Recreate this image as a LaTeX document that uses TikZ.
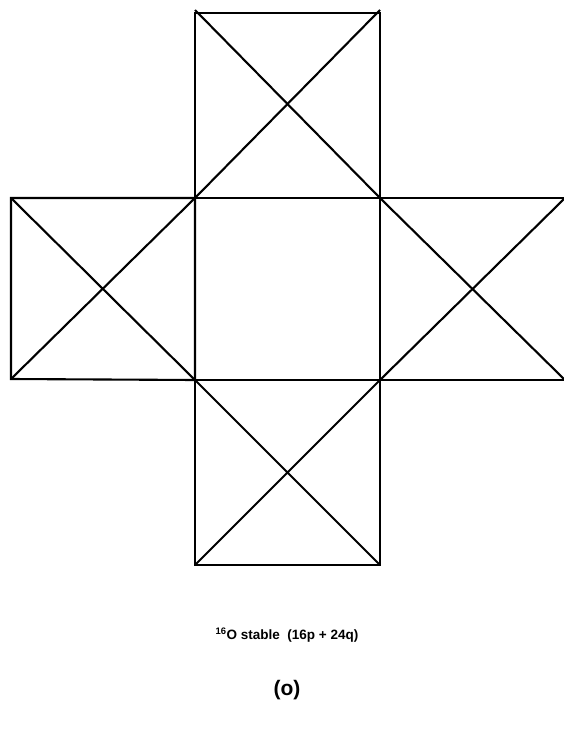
\documentclass[tikz,border=0pt]{standalone}
\usepackage{fontspec}
\setmainfont{Liberation Sans}
\begin{document}
\begin{tikzpicture}[x=1pt,y=-1pt,
  ln/.style={line width=2.1pt,black},
  lbl/.style={inner sep=0pt,font=\bfseries\fontsize{13.5}{16}\selectfont},
  tag/.style={inner sep=0pt,font=\bfseries\fontsize{21}{24}\selectfont}]
\useasboundingbox (0,0) rectangle (563,735);
% corner coordinates
\coordinate (t1) at (195,13);  \coordinate (t2) at (380,13);
\coordinate (d1) at (195,10);  \coordinate (d2) at (380,10);
\coordinate (c1) at (195,198); \coordinate (c2) at (380,198);
\coordinate (c3) at (380,380); \coordinate (c4) at (195,380);
\coordinate (l1) at (11,198);  \coordinate (l4) at (11,379);
\coordinate (r2) at (565,198); \coordinate (r3) at (565,380);
\coordinate (b3) at (380,565); \coordinate (b4) at (195,565);
% top square
\draw[ln] (t1) rectangle (c2);
\draw[ln] (d1) -- (c2) (d2) -- (c1);
% centre square
\draw[ln] (c1) rectangle (c3);
% left square
\draw[ln] (l1) -- (c1) -- (c4) -- (l4) -- cycle;
\draw[ln] (l1) -- (c4) (c1) -- (l4);
% right square
\draw[ln] (c2) -- (r2) (r3) -- (c3);
\draw[ln] (c2) -- (r3) (r2) -- (c3);
% bottom square
\draw[ln] (c4) rectangle (b3);
\draw[ln] (c4) -- (b3) (c3) -- (b4);
% labels
\node[lbl] (cap) at (287,635) {\textsuperscript{16}O stable\ \ (16p + 24q)};
\node[tag] (tg) at (287,690) {(o)};
\end{tikzpicture}
\end{document}
